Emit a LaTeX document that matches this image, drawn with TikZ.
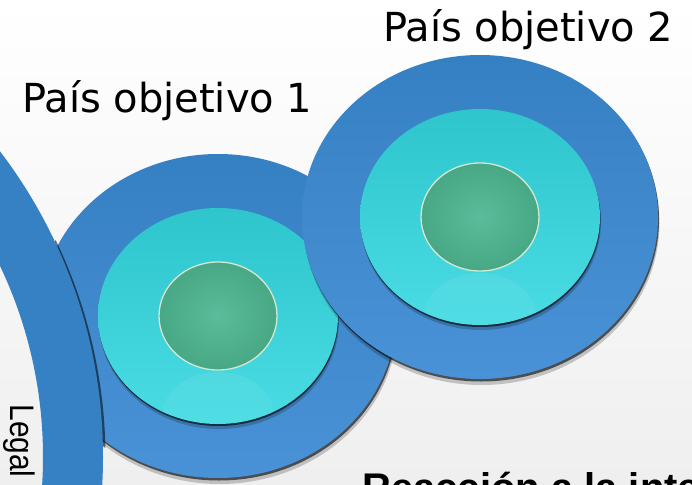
\documentclass[tikz,border=0pt]{standalone}
\usepackage{fontspec}
\setmainfont{DejaVu Sans}
\newfontfamily\arialf{Liberation Sans}
\usetikzlibrary{fadings}

\definecolor{bgbot}{HTML}{EFEFEF}
\definecolor{ringtop}{HTML}{3580C2}
\definecolor{ringbot}{HTML}{4A92D7}
\definecolor{ringflat}{HTML}{3681C3}
\definecolor{cyantop}{HTML}{2EC5CC}
\definecolor{cyanbot}{HTML}{4ADCE4}
\definecolor{greenin}{HTML}{5ABC9A}
\definecolor{greenout}{HTML}{48A886}
\definecolor{greenrim}{HTML}{D2E8D0}

\tikzfading[name=fadedown, top color=transparent!0, bottom color=transparent!100]

\tikzset{
  lab/.style={font=\fontsize{40}{40}\selectfont, inner sep=0pt, anchor=base west, text=black},
  outerdisc/.style={top color=ringtop, bottom color=ringbot},
  cyandisc/.style={top color=cyantop, bottom color=cyanbot},
  greendisc/.style={inner color=greenin, outer color=greenout},
  shadowA/.style={fill=black, opacity=0.2},
  shadowB/.style={fill=black, opacity=0.6},
}

% one target: #1 = centre
\newcommand{\mytarget}[1]{%
  \fill[shadowA] (#1) ++(1.5,6) ellipse [x radius=178, y radius=162];
  \fill[shadowB] (#1) ++(1,2.5) ellipse [x radius=178, y radius=162];
  \shade[outerdisc] (#1) ellipse [x radius=178, y radius=162];
  \fill[shadowA] (#1) ++(1,5) ellipse [x radius=120, y radius=108];
  \fill[shadowB] (#1) ++(0.5,2) ellipse [x radius=120, y radius=108];
  \shade[cyandisc] (#1) ellipse [x radius=120, y radius=108];
  \begin{scope}
    \clip (#1) ellipse [x radius=120, y radius=108];
    \fill[white, opacity=0.12, path fading=fadedown] (#1) ++(0,100) ellipse [x radius=56, y radius=44];
  \end{scope}
  \shade[greendisc] (#1) ellipse [x radius=59, y radius=54];
  \draw[greenrim, line width=1.3pt] (#1) ellipse [x radius=59, y radius=54];
}

\begin{document}
\begin{tikzpicture}[x=1pt, y=-1pt]
  \useasboundingbox (0,0) rectangle (692,484);
  \shade[top color=white, bottom color=bgbot] (0,0) rectangle (692,484);

  \coordinate (c1) at (218,316);
  \coordinate (c2) at (480,217);
  \coordinate (cbig) at (-402,457);

  % target 1
  \mytarget{c1}

  % big left ring
  \begin{scope}
    \clip (c1) ellipse [x radius=182, y radius=168];
    \fill[black, opacity=0.55, even odd rule] (cbig) ++(2.5,2) circle [radius=505] (cbig) circle [radius=445];
  \end{scope}
  \fill[ringflat, even odd rule] (cbig) circle [radius=505] (cbig) circle [radius=445];

  % target 2
  \mytarget{c2}

  % labels
  \node[lab] (p1) at (22,112) {País objetivo 1};
  \node[lab] (p2) at (383,42) {País objetivo 2};
  \node[font=\arialf\fontsize{34}{34}\selectfont, inner sep=0pt, rotate=-90, xscale=0.88] (legal) at (19,441) {Legal};
  \node[font=\arialf\bfseries\fontsize{40}{40}\selectfont, inner sep=0pt, anchor=base west] (react) at (362,501) {Reacción a la inte};
\end{tikzpicture}
\end{document}
